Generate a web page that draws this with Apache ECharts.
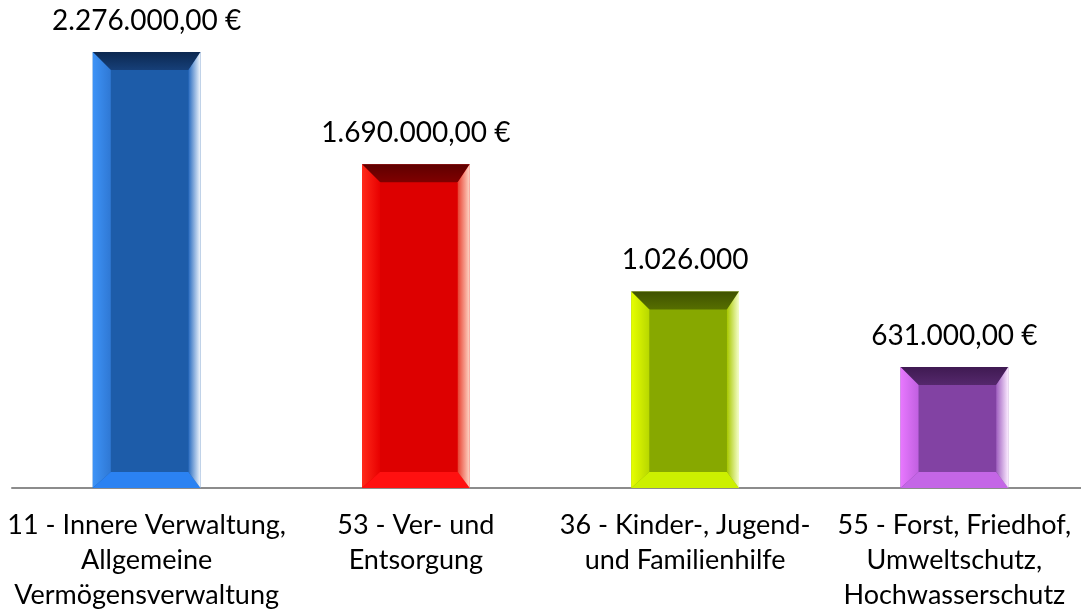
<!DOCTYPE html>
<html lang="de">
<head>
    <meta charset="UTF-8">
    <title>Produktbereiche</title>
    <script src="https://cdn.jsdelivr.net/npm/echarts@6/dist/echarts.min.js"></script>
    <style>
        html, body { margin: 0; padding: 0; background: #fff; }
    </style>
</head>
<body>
<div id="main" style="width: 1081px;height:609px;"></div>
<script type="text/javascript">
    // Daten
    var categories = [
        '11 - Innere Verwaltung,\nAllgemeine\nVermögensverwaltung',
        '53 - Ver- und\nEntsorgung',
        '36 - Kinder-, Jugend-\nund Familienhilfe',
        '55 - Forst, Friedhof,\nUmweltschutz,\nHochwasserschutz'
    ];
    var values = [2276000, 1690000, 1026000, 631000];
    var valueLabels = ['2.276.000,00 €', '1.690.000,00 €', '1.026.000', '631.000,00 €'];

    // Farben je Balken: Fläche, oben, links, unten, rechts
    var palette = [
        { face: '#1d5ca9', top: ['#0c2850', '#163f78'], left: ['#3d93f7', '#2f78d4'], bottom: '#2b82f2', right: ['#2a6cc0', '#f2f7fd'] },
        { face: '#dd0000', top: ['#5e0000', '#800000'], left: ['#ff2a1a', '#e80000'], bottom: '#ff1010', right: ['#e84030', '#ffd8c8'] },
        { face: '#87a800', top: ['#3f5200', '#566e00'], left: ['#e6ff00', '#b8d800'], bottom: '#ccf000', right: ['#a8c800', '#f6ffcc'] },
        { face: '#8242a3', top: ['#3f1a52', '#55286c'], left: ['#e878ff', '#c060e0'], bottom: '#c466e6', right: ['#a060c0', '#fbeaff'] }
    ];

    var myChart = echarts.init(document.getElementById('main'));

    function grad(c, x2, y2) {
        return new echarts.graphic.LinearGradient(0, 0, x2, y2, [
            { offset: 0, color: c[0] }, { offset: 1, color: c[1] }
        ]);
    }

    function renderBevel(params, api) {
        var i = api.value(0);
        var top = api.coord([i, api.value(1)]);
        var base = api.coord([i, 0]);
        var w = api.size([1, 0])[0] * 0.4;
        var x0 = top[0] - w / 2, x1 = top[0] + w / 2;
        var y0 = top[1], y1 = base[1];
        var bl = 18, bt = 18, br = 12, bb = 16;
        var c = palette[i];
        return {
            type: 'group',
            children: [
                { type: 'rect', shape: { x: x0, y: y0, width: w, height: y1 - y0 }, style: { fill: c.face } },
                { type: 'polygon', shape: { points: [[x0, y0], [x1, y0], [x1 - br, y0 + bt], [x0 + bl, y0 + bt]] }, style: { fill: grad(c.top, 0, 1) } },
                { type: 'polygon', shape: { points: [[x0, y0], [x0 + bl, y0 + bt], [x0 + bl, y1 - bb], [x0, y1]] }, style: { fill: grad(c.left, 1, 0) } },
                { type: 'polygon', shape: { points: [[x0, y1], [x0 + bl, y1 - bb], [x1 - br, y1 - bb], [x1, y1]] }, style: { fill: c.bottom } },
                { type: 'polygon', shape: { points: [[x1, y0], [x1, y1], [x1 - br, y1 - bb], [x1 - br, y0 + bt]] }, style: { fill: grad(c.right, 1, 0) } },
                {
                    type: 'text',
                    style: {
                        x: top[0], y: y0 - 31, text: valueLabels[i],
                        align: 'center', verticalAlign: 'middle',
                        font: '28px Lato, "Open Sans", sans-serif', fill: '#000'
                    }
                }
            ]
        };
    }

    var data = values.map(function (v, i) { return [i, v]; });

    var option = {
        animation: false,
        grid: { left: 12, right: -8, top: 9, bottom: 121, outerBoundsMode: 'none', containLabel: false },
        xAxis: {
            type: 'category',
            data: categories,
            axisLine: { lineStyle: { color: '#8c8c8c', width: 2 } },
            axisTick: { show: false },
            axisLabel: {
                interval: 0,
                margin: 20,
                color: '#000',
                fontSize: 27,
                lineHeight: 35,
                fontFamily: 'Lato, "Open Sans", sans-serif',
                align: 'center'
            }
        },
        yAxis: {
            type: 'value',
            min: 0,
            max: 2500000,
            show: false,
            splitLine: { show: false }
        },
        series: [{
            type: 'custom',
            renderItem: renderBevel,
            data: data,
            clip: false
        }]
    };
    myChart.setOption(option);
</script>
</body>
</html>
